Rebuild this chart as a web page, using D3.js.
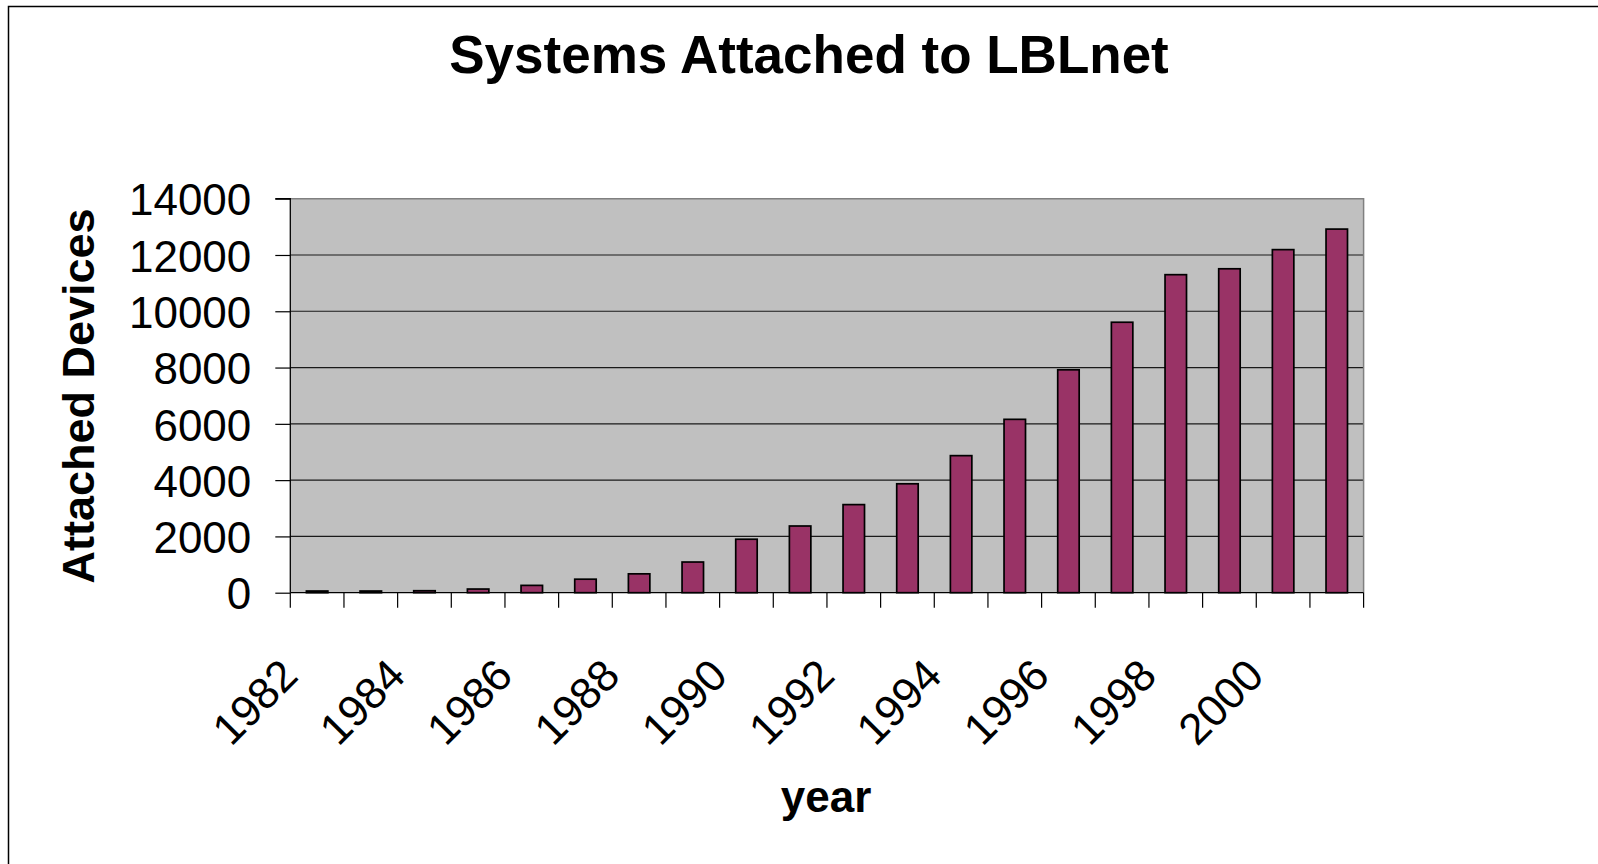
<!DOCTYPE html>
<html>
<head>
<meta charset="utf-8">
<script src="https://cdn.jsdelivr.net/npm/d3@7"></script>
<style>
  html, body { margin: 0; padding: 0; background: #fff; }
  svg { display: block; }
  text { font-family: "Liberation Sans", Arial, sans-serif; fill: #000; }
</style>
</head>
<body>
<svg id="chart" width="1598" height="864"></svg>
<script>
// ---- data ----
const years = ["1982","1983","1984","1985","1986","1987","1988","1989","1990","1991",
               "1992","1993","1994","1995","1996","1997","1998","1999","2000","2001"];
const devices = [60, 60, 70, 130, 260, 480, 670, 1090, 1900, 2370,
                 3130, 3870, 4870, 6160, 7920, 9610, 11300, 11510, 12190, 12920];
const yTicks = [0, 2000, 4000, 6000, 8000, 10000, 12000, 14000];
const xLabelYears = ["1982","1984","1986","1988","1990","1992","1994","1996","1998","2000"];
const titleText = "Systems Attached to LBLnet";
const yTitle = "Attached Devices";
const xTitle = "year";

// ---- layout ----
const svg = d3.select("#chart");
const plot = { left: 290.3, right: 1363.6, top: 198.7, bottom: 592.7 };

const x = d3.scaleBand().domain(years).range([plot.left, plot.right])
  .paddingInner(0.6).paddingOuter(0.3);
const y = d3.scaleLinear().domain([0, 14000]).range([plot.bottom, plot.top]);
const step = x.step();
const gapHalf = (step - x.bandwidth()) / 2;

// outer frame
svg.append("rect").attr("x", 8.5).attr("y", 6.5).attr("width", 1700).attr("height", 1000)
  .attr("fill", "none").attr("stroke", "#000").attr("stroke-width", 1.5);

// plot background
svg.append("rect").attr("x", plot.left).attr("y", plot.top)
  .attr("width", plot.right - plot.left).attr("height", plot.bottom - plot.top)
  .attr("fill", "#C0C0C0");

// gridlines
svg.append("g").selectAll("line").data(yTicks.filter(d => d > 0 && d < 14000)).join("line")
  .attr("x1", plot.left).attr("x2", plot.right)
  .attr("y1", d => y(d)).attr("y2", d => y(d))
  .attr("stroke", "#1a1a1a").attr("stroke-width", 1.2);

// plot border top & right
svg.append("path")
  .attr("d", `M${plot.left},${plot.top}H${plot.right}V${plot.bottom}`)
  .attr("fill", "none").attr("stroke", "#808080").attr("stroke-width", 1.5);

// bars
svg.append("g").selectAll("rect").data(years).join("rect")
  .attr("x", d => x(d))
  .attr("y", (d, i) => y(devices[i]))
  .attr("width", x.bandwidth())
  .attr("height", (d, i) => y(0) - y(devices[i]))
  .attr("fill", "#993366")
  .attr("stroke", "#000").attr("stroke-width", 1.7);

// y axis
const yAxis = d3.axisLeft(y).tickValues(yTicks).tickSize(15).tickPadding(24)
  .tickFormat(d3.format("d"));
const gy = svg.append("g").attr("transform", `translate(${plot.left},0)`).call(yAxis);
gy.select(".domain").attr("stroke", "#000").attr("stroke-width", 1.3)
  .attr("d", `M-15,${plot.top}H0V${plot.bottom}`);
gy.selectAll(".tick line").attr("stroke", "#000").attr("stroke-width", 1.2);
gy.selectAll(".tick text").attr("font-size", 44).attr("dy", "0.37em")
  .style("font-family", "'Liberation Sans', Arial, sans-serif").attr("fill", "#000");

// x axis line
svg.append("line").attr("x1", plot.left).attr("x2", plot.right)
  .attr("y1", plot.bottom).attr("y2", plot.bottom)
  .attr("stroke", "#000").attr("stroke-width", 1.3);

// x tick marks at category boundaries
const boundaries = years.map(d => x(d) - gapHalf).concat([x(years[years.length - 1]) + x.bandwidth() + gapHalf]);
svg.append("g").selectAll("line").data(boundaries).join("line")
  .attr("x1", d => d).attr("x2", d => d)
  .attr("y1", plot.bottom).attr("y2", plot.bottom + 15)
  .attr("stroke", "#000").attr("stroke-width", 1.2);

// x labels rotated
svg.append("g").selectAll("text").data(xLabelYears).join("text")
  .attr("transform", d => `translate(${x(d) + x.bandwidth() / 2 - 17},678) rotate(-45)`)
  .attr("text-anchor", "end")
  .attr("font-size", 44)
  .text(d => d);

// titles
svg.append("text").attr("x", 809).attr("y", 73).attr("text-anchor", "middle")
  .attr("font-size", 53).attr("font-weight", "bold").text(titleText);

svg.append("text").attr("transform", `translate(94,396) rotate(-90)`)
  .attr("text-anchor", "middle").attr("font-size", 45).attr("font-weight", "bold").text(yTitle);

svg.append("text").attr("x", 826).attr("y", 812).attr("text-anchor", "middle")
  .attr("font-size", 44).attr("font-weight", "bold").text(xTitle);
</script>
</body>
</html>
